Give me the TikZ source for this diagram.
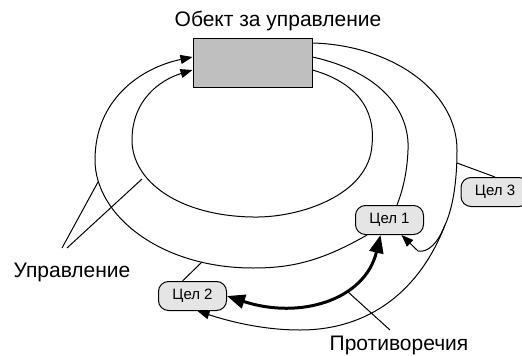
\documentclass[tikz,border=0pt]{standalone}
\usepackage{fontspec}
\setmainfont{Liberation Sans}
\usetikzlibrary{arrows.meta}

\begin{document}
\begin{tikzpicture}[x=1pt, y=-1pt,
    goal/.style={draw, line width=1pt, fill=black!10, rounded corners=10pt,
        minimum width=68pt, minimum height=29pt, inner sep=0pt,
        font=\fontsize{15}{18}\selectfont},
    bigtext/.style={anchor=base, font=\fontsize{21}{25}\selectfont},
    wire/.style={line width=1pt},
    tip/.style={-{Triangle[length=12pt,width=9pt]}}]
    \useasboundingbox (0,0) rectangle (522,356);

    % Object
    \node[draw, line width=1pt, fill=black!25, minimum width=119pt,
        minimum height=49pt, inner sep=0pt] (box) at (252.5,62.5) {};
    \node[bigtext] (title) at (278,27) {Обект за управление};

    % Goals
    \node[goal] (c1) at (389.5,220) {Цел 1};
    \node[goal] (c2) at (192.5,296) {Цел 2};
    \node[goal] (c3) at (495,192) {Цел 3};

    % Labels
    \node[bigtext] (ctrl) at (72,277) {Управление};
    \node[bigtext] (contra) at (399,350) {Противоречия};

    % Loop ends on the box
    \coordinate (inR) at ([yshift=-7.5pt]box.east);
    \coordinate (inL) at ([yshift=-7.5pt]box.west);
    \coordinate (midR) at ([yshift=5.5pt]box.east);
    \coordinate (midL) at ([yshift=5.5pt]box.west);
    \coordinate (outR) at ([yshift=19.5pt]box.east);
    \coordinate (split) at (445,225);

    % Inner loop
    \draw[wire, tip] (inR) .. controls (365,85) and (375,118) .. (372,145)
        .. controls (369,195) and (300,218) .. (253,217)
        .. controls (180,216) and (132,182) .. (132,140)
        .. controls (132,100) and (160,80) .. (inL);

    % Middle loop through Цел 1
    \draw[wire] (midR) .. controls (380,72) and (410,110) .. (408,150)
        .. controls (407,175) and (402,192) .. ([xshift=7.5pt]c1.north);
    \draw[wire, tip] ([xshift=12pt]c1.south west) .. controls (320,262) and (290,268) .. (253,268)
        .. controls (160,268) and (95,215) .. (95,160)
        .. controls (95,100) and (140,68) .. (midL);

    % Outer loop
    \draw[wire] (outR) .. controls (390,45) and (457,90) .. (457,150)
        .. controls (457,185) and (452,210) .. (split);
    \draw[wire, tip] (split) .. controls (420,290) and (370,330) .. (300,330)
        .. controls (260,330) and (225,320) .. ([xshift=5pt]c2.south);
    \draw[wire, tip] (split) .. controls (438,243) and (428,253) .. (418,251)
        -- ([xshift=12pt]c1.south);

    % Contradiction
    \draw[line width=3pt, {Triangle[length=18pt,width=14pt]}-{Triangle[length=18pt,width=14pt]}]
        (c2.east) .. controls (300,320) and (365,300) .. ([xshift=-9pt]c1.south);

    % Callouts
    \coordinate (o3) at (457,163);
    \coordinate (m2) at (202,262);
    \coordinate (u1) at (62,248);
    \coordinate (u2) at (67,248);
    \coordinate (mL) at (98,182);
    \coordinate (iL) at (142,179);
    \coordinate (p1) at (390,330);
    \coordinate (p2) at (347,291);
    \draw[wire] (c3.north) -- (o3);
    \draw[wire] ([xshift=-10pt]c2.north) -- (m2);
    \draw[wire] (u1) -- (mL);
    \draw[wire] (u2) -- (iL);
    \draw[wire] (p1) -- (p2);
\end{tikzpicture}
\end{document}
